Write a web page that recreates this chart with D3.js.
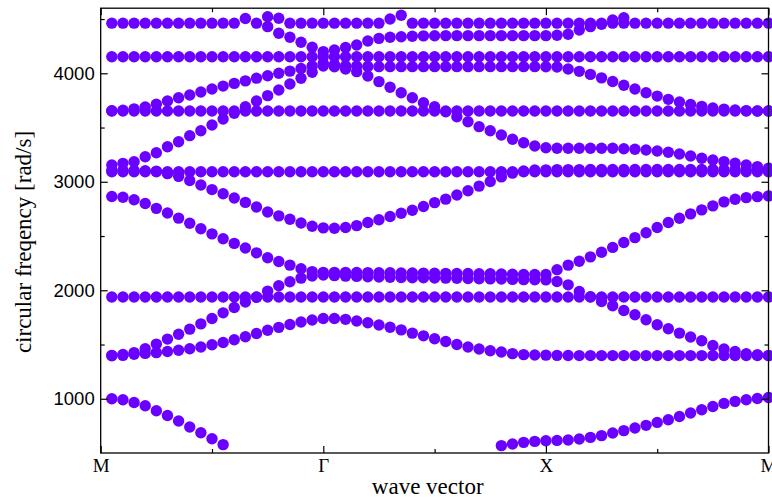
<!DOCTYPE html>
<html>
<head>
<meta charset="utf-8">
<script src="https://cdnjs.cloudflare.com/ajax/libs/d3/7.8.5/d3.min.js"></script>
<style>
  body { margin: 0; background: #fff; }
</style>
</head>
<body>
<div id="Area"></div>
<script>
// k-path sampling: M -> Gamma -> X -> M, 20 steps per leg (first M point not computed)
var kPath = d3.range(1, 61).map(function(i){ return i * 0.05; });

// bands, one value per k point (null = below the axis)
var acoustic = [1000, 991, 966, 936, 890, 846, 795, 740, 687, 632,
  577, null, null, null, null, null, null, null, null, null,
  null, null, null, null, null, null, null, null, null, null,
  null, null, null, null, null, 568, 583, 598, 607, 613,
  616, 620, 629, 644, 660, 684, 706, 731, 755, 782,
  807, 837, 869, 899, 929, 957, 976, 991, 1003, 1012];

var hump = [1397, 1400, 1410, 1418, 1425, 1436, 1447, 1461, 1477, 1498,
  1519, 1544, 1572, 1602, 1632, 1658, 1684, 1708, 1726, 1740,
  1740, 1732, 1717, 1701, 1680, 1659, 1635, 1605, 1580, 1553,
  1528, 1500, 1477, 1459, 1443, 1431, 1416, 1407, 1404, 1402,
  1400, 1399, 1398, 1398, 1398, 1398, 1398, 1398, 1398, 1398,
  1398, 1398, 1398, 1398, 1398, 1398, 1398, 1398, 1398, 1398];

var flat1940 = [1938, 1938, 1938, 1938, 1938, 1938, 1938, 1938, 1938, 1938,
  1938, 1938, 1938, 1938, 1938, 1938, 1938, 1938, 1938, 1938,
  1938, 1938, 1938, 1938, 1938, 1938, 1938, 1938, 1938, 1938,
  1938, 1938, 1938, 1938, 1938, 1938, 1938, 1938, 1938, 1938,
  1938, 1938, 1938, 1938, 1938, 1938, 1938, 1938, 1938, 1938,
  1938, 1938, 1938, 1938, 1938, 1938, 1938, 1938, 1938, 1938];

var riseLow = [1400, 1408, 1425, 1461, 1504, 1550, 1595, 1642, 1690, 1740,
  1792, 1841, 1891, 1935, 1992, 2042, 2078, 2112, 2132, 2140,
  2135, 2130, 2128, 2125, 2122, 2120, 2118, 2116, 2115, 2113,
  2112, 2110, 2108, 2106, 2105, 2103, 2100, 2098, 2097, 2096,
  2081, 2050, 1989, 1940, 1896, 1857, 1813, 1774, 1728, 1682,
  1645, 1605, 1569, 1534, 1491, 1458, 1436, 1415, 1405, 1398];

var fallHigh = [2865, 2858, 2835, 2800, 2755, 2712, 2665, 2618, 2567, 2520,
  2475, 2432, 2390, 2345, 2300, 2265, 2232, 2198, 2172, 2165,
  2165, 2165, 2164, 2163, 2162, 2161, 2160, 2159, 2158, 2157,
  2156, 2155, 2154, 2153, 2152, 2150, 2148, 2146, 2145, 2145,
  2190, 2232, 2268, 2308, 2350, 2395, 2440, 2485, 2530, 2578,
  2625, 2664, 2704, 2741, 2778, 2815, 2839, 2854, 2863, 2870];

var bowl = [3105, 3105, 3104, 3102, 3098, 3075, 3050, 3012, 2970, 2928,
  2890, 2850, 2810, 2768, 2722, 2686, 2655, 2620, 2590, 2575,
  2572, 2578, 2596, 2624, 2650, 2680, 2710, 2738, 2772, 2808,
  2840, 2878, 2918, 2960, 3003, 3045, 3080, 3100, 3108, 3110,
  3112, 3112, 3112, 3113, 3113, 3113, 3113, 3113, 3113, 3113,
  3113, 3113, 3113, 3113, 3113, 3113, 3113, 3113, 3113, 3113];

var flat3093 = [3093, 3093, 3093, 3093, 3093, 3093, 3093, 3093, 3093, 3093,
  3093, 3093, 3093, 3093, 3093, 3093, 3093, 3093, 3093, 3093,
  3093, 3093, 3093, 3093, 3093, 3093, 3093, 3093, 3093, 3093,
  3093, 3093, 3093, 3093, 3093, 3093, 3093, 3093, 3093, 3093,
  3093, 3093, 3093, 3093, 3093, 3093, 3093, 3093, 3093, 3093,
  3093, 3093, 3093, 3093, 3093, 3093, 3093, 3093, 3093, 3093];

var arch = [3155, 3170, 3185, 3231, 3268, 3323, 3369, 3425, 3471, 3523,
  3579, 3631, 3692, 3745, 3794, 3846, 3901, 3954, 4009, 4067,
  4060, 4040, 4015, 3975, 3923, 3871, 3821, 3775, 3729, 3692,
  3646, 3600, 3554, 3508, 3471, 3431, 3392, 3360, 3330, 3314,
  3309, 3309, 3309, 3309, 3309, 3309, 3305, 3300, 3293, 3284,
  3272, 3256, 3238, 3217, 3201, 3186, 3171, 3155, 3140, 3125];

var flat3652 = [3652, 3652, 3652, 3652, 3652, 3652, 3652, 3652, 3652, 3652,
  3652, 3652, 3652, 3652, 3652, 3652, 3652, 3652, 3652, 3652,
  3652, 3652, 3652, 3652, 3652, 3652, 3652, 3652, 3652, 3652,
  3652, 3652, 3652, 3652, 3652, 3652, 3652, 3652, 3652, 3652,
  3652, 3652, 3652, 3652, 3652, 3652, 3652, 3652, 3652, 3652,
  3652, 3652, 3652, 3652, 3652, 3652, 3652, 3652, 3652, 3652];

var plateau = [3655, 3660, 3672, 3690, 3715, 3745, 3775, 3800, 3828, 3855,
  3882, 3907, 3930, 3955, 3978, 4000, 4020, 4045, 4068, 4092,
  4080, 4070, 4065, 4062, 4061, 4061, 4061, 4061, 4061, 4061,
  4061, 4061, 4061, 4061, 4061, 4061, 4061, 4061, 4061, 4060,
  4058, 4040, 4018, 3990, 3958, 3925, 3890, 3855, 3820, 3790,
  3760, 3735, 3712, 3695, 3680, 3670, 3662, 3656, 3653, 3652];

var flat4152 = [4152, 4152, 4152, 4152, 4152, 4152, 4152, 4152, 4152, 4152,
  4152, 4152, 4152, 4152, 4152, 4152, 4152, 4152, 4152, 4152,
  4152, 4152, 4152, 4152, 4152, 4152, 4152, 4152, 4152, 4152,
  4152, 4152, 4152, 4152, 4152, 4152, 4152, 4152, 4152, 4152,
  4152, 4152, 4152, 4152, 4152, 4152, 4152, 4152, 4152, 4152,
  4152, 4152, 4152, 4152, 4152, 4152, 4152, 4152, 4152, 4152];

var upperLow = [4462, 4462, 4462, 4462, 4462, 4462, 4462, 4462, 4462, 4462,
  4462, 4462, 4505, 4462, 4430, 4369, 4332, 4286, 4240, 4200,
  4215, 4238, 4261, 4298, 4322, 4332, 4337, 4342, 4345, 4346,
  4347, 4347, 4347, 4347, 4347, 4347, 4347, 4347, 4347, 4347,
  4350, 4360, 4399, 4430, 4452, 4462, 4462, 4462, 4462, 4462,
  4462, 4462, 4462, 4462, 4462, 4462, 4462, 4462, 4462, 4462];

var upperHigh = [null, null, null, null, null, null, null, null, null, null,
  null, null, null, null, 4522, 4507, 4462, 4462, 4462, 4462,
  4462, 4462, 4462, 4462, 4462, 4500, 4535, 4462, 4462, 4462,
  4462, 4462, 4462, 4462, 4462, 4462, 4462, 4462, 4462, 4462,
  4462, 4462, 4462, 4462, 4462, 4491, 4512, null, null, null,
  null, null, null, null, null, null, null, null, null, null];

var bands = [acoustic, hump, flat1940, riseLow, fallHigh, bowl, flat3093,
  arch, flat3652, plateau, flat4152, upperLow, upperHigh];

// axis ticks
var xTicks = [0, 1, 2, 3];
var xTickLabels = ["M", "Γ", "X", "M"];
var xMinor = [0.5, 1.5, 2.5];
var yTicks = [1000, 2000, 3000, 4000];
var yMinor = [1500, 2500, 3500, 4500];

var margin = {top: 8.2, right: 3.5, bottom: 45, left: 100.7},
    width = 772 - margin.left - margin.right,
    height = 498 - margin.top - margin.bottom;

var svg = d3.select("#Area")
  .append("svg")
    .attr("width", 772)
    .attr("height", 498)
  .append("g")
    .attr("transform", "translate(" + margin.left + "," + margin.top + ")");

var x = d3.scaleLinear().domain([0, 3]).range([0, width]);
var y = d3.scaleLinear().domain([500, 4600]).range([height, 0]);

// points
var pts = [];
bands.forEach(function(b) {
  b.forEach(function(v, i) {
    if (v !== null) pts.push({k: kPath[i], f: v});
  });
});

svg.selectAll("circle")
  .data(pts)
  .enter()
  .append("circle")
    .attr("cx", function(d){ return x(d.k) })
    .attr("cy", function(d){ return y(d.f) })
    .attr("r", 5.7)
    .attr("fill", "#6a00ff");

// ticks, all pointing inward
function styleAxis(g) {
  g.select(".domain").remove();
  g.selectAll(".tick line").attr("stroke", "#000").attr("stroke-width", 1.2);
}

svg.append("g")
  .attr("transform", "translate(0," + height + ")")
  .call(d3.axisBottom(x).tickValues(xTicks).tickFormat(function(d, i){ return xTickLabels[i]; })
    .tickSize(-7).tickPadding(6))
  .call(styleAxis)
  .selectAll("text")
    .attr("font-family", "'Liberation Serif', 'Times New Roman', serif")
    .attr("font-size", 19)
    .attr("fill", "#000");

svg.append("g")
  .attr("transform", "translate(0," + height + ")")
  .call(d3.axisBottom(x).tickValues(xMinor).tickFormat("").tickSize(-4))
  .call(styleAxis);

svg.append("g")
  .call(d3.axisTop(x).tickValues(xTicks).tickFormat("").tickSize(-7))
  .call(styleAxis);

svg.append("g")
  .call(d3.axisTop(x).tickValues(xMinor).tickFormat("").tickSize(-4))
  .call(styleAxis);

svg.append("g")
  .call(d3.axisLeft(y).tickValues(yTicks).tickFormat(d3.format("d")).tickSize(-7).tickPadding(6))
  .call(styleAxis)
  .selectAll("text")
    .attr("font-family", "'Liberation Sans', Arial, sans-serif")
    .attr("font-size", 18.5)
    .attr("fill", "#000");

svg.append("g")
  .call(d3.axisLeft(y).tickValues(yMinor).tickFormat("").tickSize(-4))
  .call(styleAxis);

svg.append("g")
  .attr("transform", "translate(" + width + ",0)")
  .call(d3.axisRight(y).tickValues(yTicks).tickFormat("").tickSize(-7))
  .call(styleAxis);

svg.append("g")
  .attr("transform", "translate(" + width + ",0)")
  .call(d3.axisRight(y).tickValues(yMinor).tickFormat("").tickSize(-4))
  .call(styleAxis);

// frame
svg.append("rect")
  .attr("width", width)
  .attr("height", height)
  .attr("fill", "none")
  .attr("stroke", "#000")
  .attr("stroke-width", 1.3);

// axis titles
svg.append("text")
  .attr("x", 327)
  .attr("y", 494 - margin.top)
  .attr("text-anchor", "middle")
  .attr("font-family", "'Liberation Serif', 'Times New Roman', serif")
  .attr("font-size", 23)
  .text("wave vector");

svg.append("text")
  .attr("transform", "translate(" + (31 - margin.left) + "," + (242 - margin.top) + ") rotate(-90)")
  .attr("text-anchor", "middle")
  .attr("font-family", "'Liberation Serif', 'Times New Roman', serif")
  .attr("font-size", 23)
  .text("circular freqency [rad/s]");
</script>
</body>
</html>
